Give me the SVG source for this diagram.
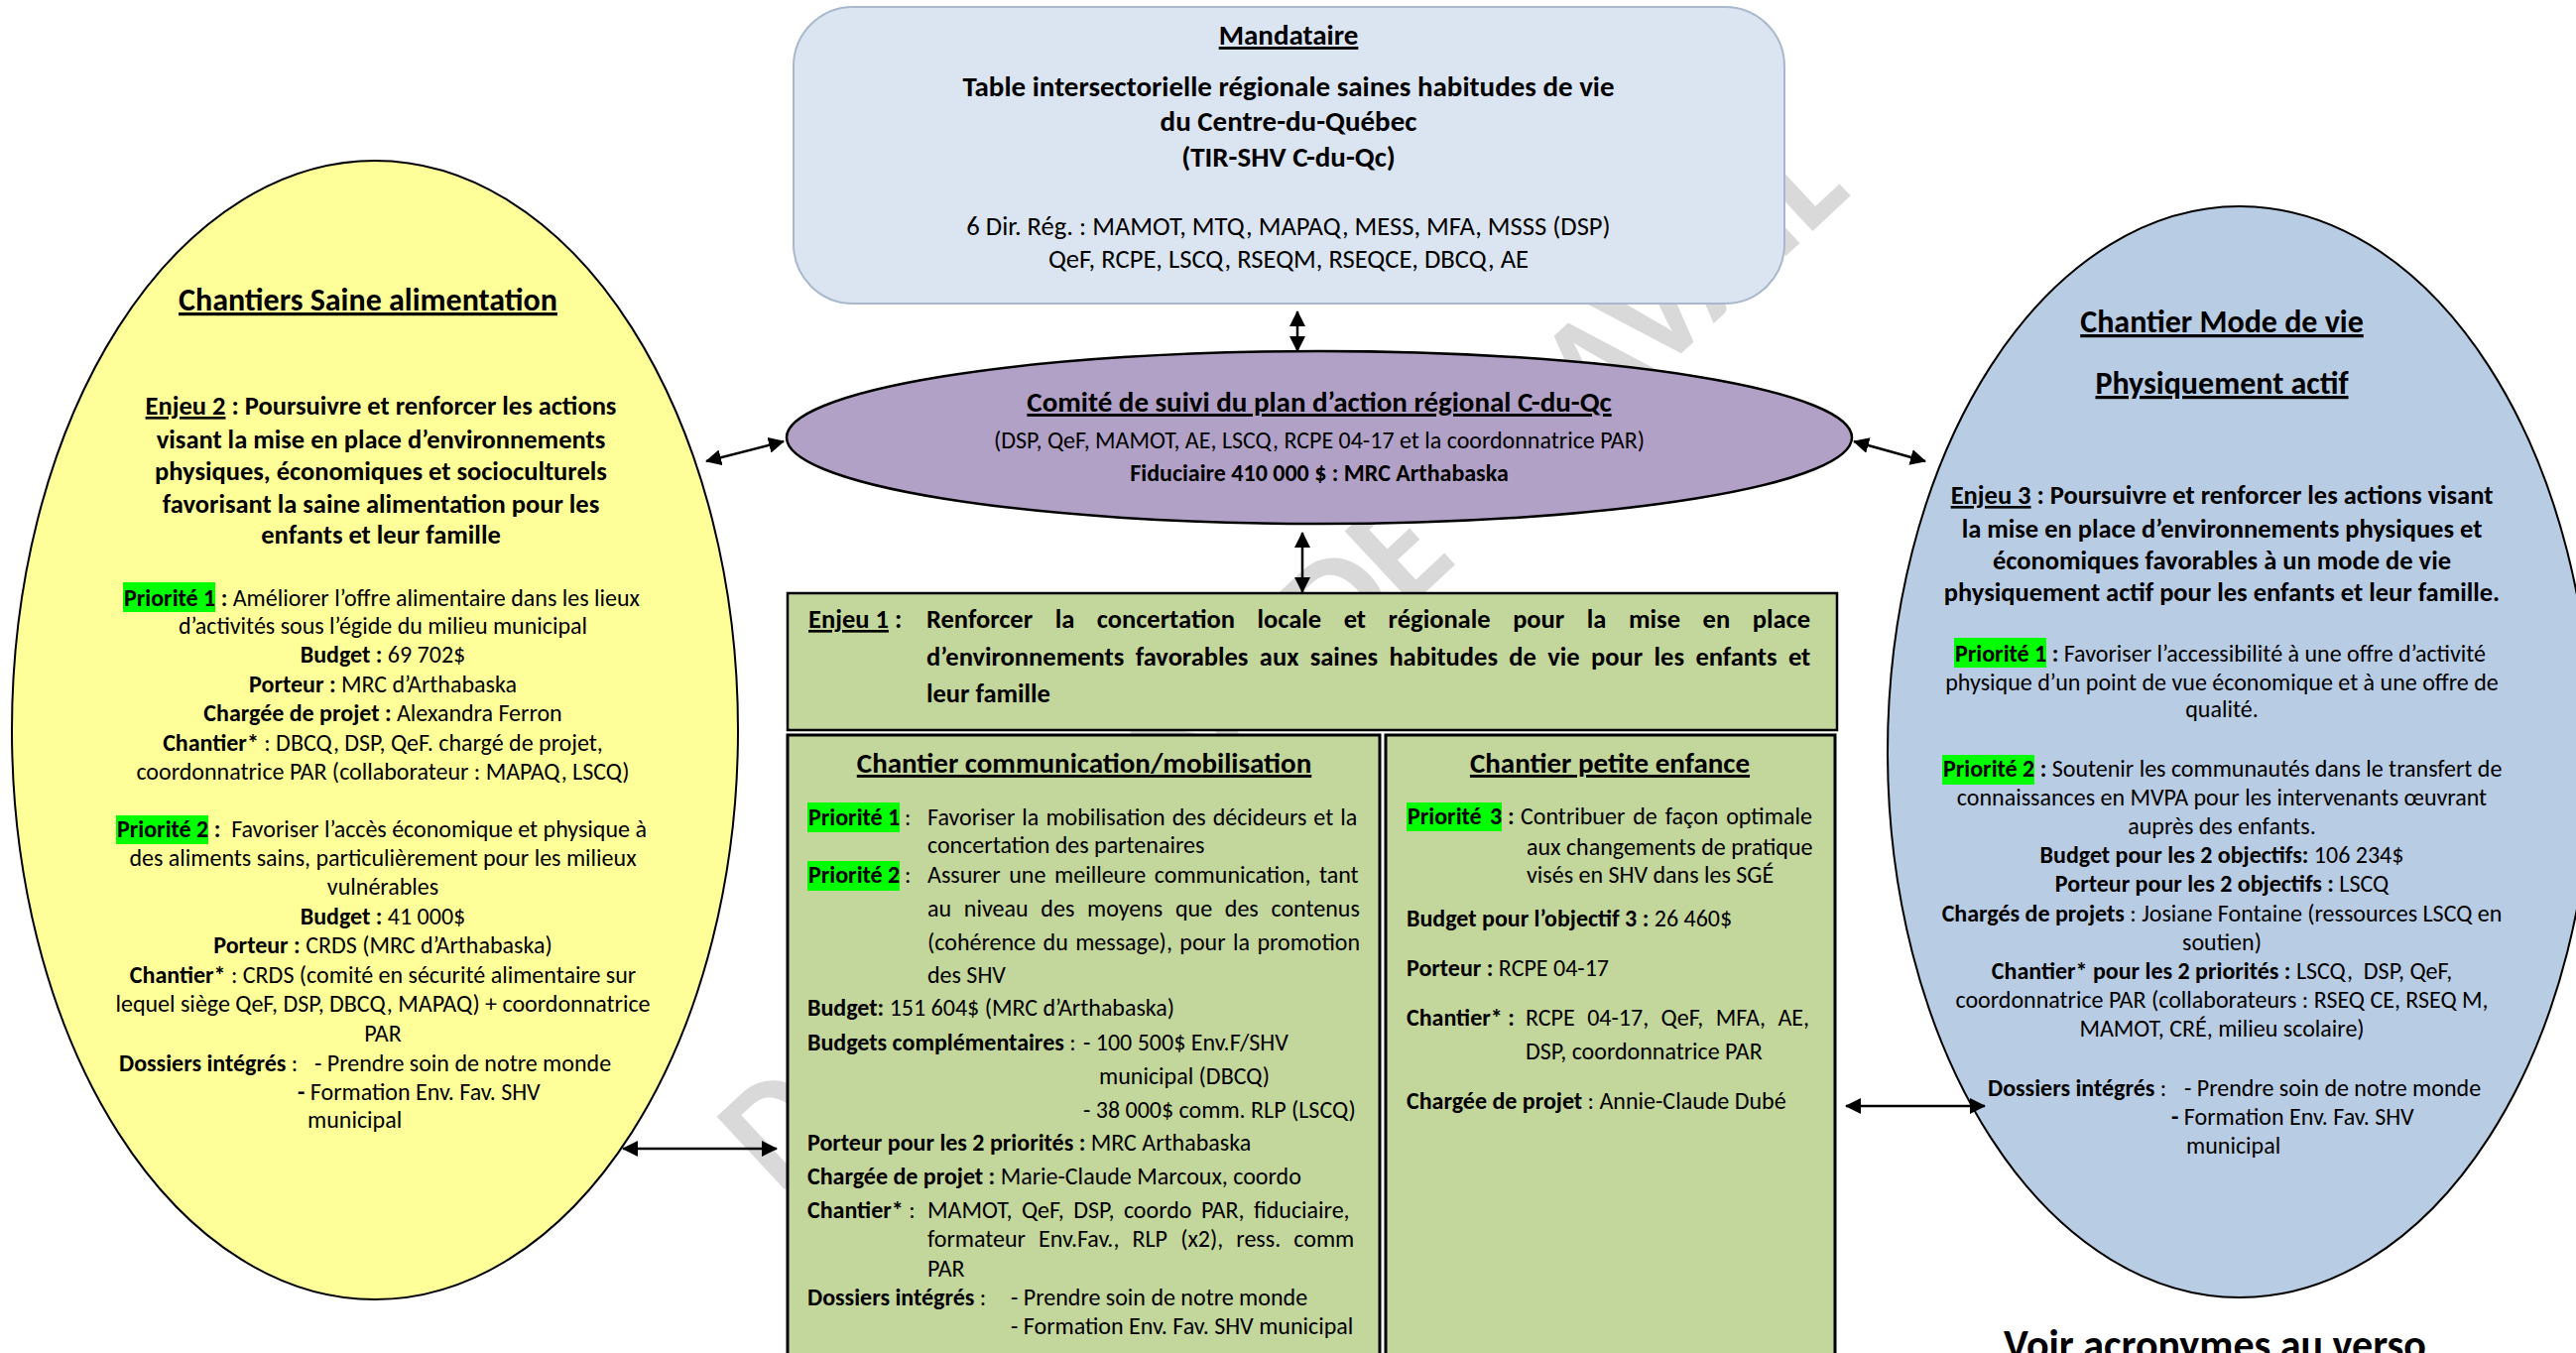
<svg xmlns="http://www.w3.org/2000/svg" width="2597" height="1364" viewBox="0 0 2597 1364">
<style>
.f{font-family:Carlito,Lato,"Liberation Sans",sans-serif;fill:#000}
.wm{font-family:Carlito,Lato,"Liberation Sans",sans-serif;fill:#d9d9d9;font-weight:700}
.b{font-weight:700}
.u{text-decoration:underline}
.m{text-anchor:middle}
.s24{font-size:24px}
.s26{font-size:26.5px}
.s27{font-size:26.6px}
.s29{font-size:29px}
.s32{font-size:32px}
.hl{fill:#00ff00}
.con{stroke:#000;stroke-width:2.5;fill:none;marker-start:url(#ah);marker-end:url(#ah)}
</style>
<defs>
<marker id="ah" markerUnits="userSpaceOnUse" markerWidth="16" markerHeight="16" refX="15" refY="8" orient="auto-start-reverse">
<path d="M0,0 L16,8 L0,16 z" fill="#000"/>
</marker>
</defs>
<rect width="2597" height="1364" fill="#fff"/>

<g id="watermark">
<text class="wm" x="0" y="0" font-size="155" textLength="1480" lengthAdjust="spacingAndGlyphs" transform="translate(785,1205) rotate(-43)">DOCUMENT DE TRAVAIL</text>
</g>

<g id="mandataire">
<rect x="800" y="7" width="999" height="299" rx="60" ry="60" fill="#dbe5f1" stroke="#a9b8cc" stroke-width="2"/>
<text class="f b s29 m u" x="1299" y="45">Mandataire</text>
<text class="f b s29 m" x="1299" y="97">Table intersectorielle régionale saines habitudes de vie</text>
<text class="f b s29 m" x="1299" y="132">du Centre-du-Québec</text>
<text class="f b s29 m" x="1299" y="168">(TIR-SHV C-du-Qc)</text>
<text class="f s27 m" x="1299" y="237">6 Dir. Rég. : MAMOT, MTQ, MAPAQ, MESS, MFA, MSSS (DSP)</text>
<text class="f s27 m" x="1299" y="270">QeF, RCPE, LSCQ, RSEQM, RSEQCE, DBCQ, AE</text>
</g>

<g id="comite">
<ellipse cx="1330" cy="441" rx="537" ry="87" fill="#b2a1c7" stroke="#000" stroke-width="2.5"/>
<text class="f b s29 m u" x="1330" y="415">Comité de suivi du plan d’action régional C-du-Qc</text>
<text class="f s24 m" x="1330" y="452">(DSP, QeF, MAMOT, AE, LSCQ, RCPE 04-17 et la coordonnatrice PAR)</text>
<text class="f b s24 m" x="1330" y="485">Fiduciaire 410 000 $ : MRC Arthabaska</text>
</g>

<g id="saine-alimentation">
<ellipse cx="378" cy="736" rx="366" ry="574" fill="#ffff99" stroke="#000" stroke-width="2"/>
<text class="f b s32 m u" x="371" y="313">Chantiers Saine alimentation</text>
<text class="f b s26 m" x="384" y="418"><tspan class="u">Enjeu 2</tspan> : Poursuivre et renforcer les actions</text>
<text class="f b s26 m" x="384" y="452">visant la mise en place d’environnements</text>
<text class="f b s26 m" x="384" y="484">physiques, économiques et socioculturels</text>
<text class="f b s26 m" x="384" y="517">favorisant la saine alimentation pour les</text>
<text class="f b s26 m" x="384" y="548">enfants et leur famille</text>
<rect class="hl" x="124" y="587" width="93" height="30"/>
<text class="f s24" x="125" y="611"><tspan class="b">Priorité 1 :</tspan> Améliorer l’offre alimentaire dans les lieux</text>
<text class="f s24 m" x="386" y="639">d’activités sous l’égide du milieu municipal</text>
<text class="f s24 m" x="386" y="668"><tspan class="b">Budget :</tspan> 69 702$</text>
<text class="f s24 m" x="386" y="698"><tspan class="b">Porteur :</tspan> MRC d’Arthabaska</text>
<text class="f s24 m" x="386" y="727"><tspan class="b">Chargée de projet :</tspan> Alexandra Ferron</text>
<text class="f s24 m" x="386" y="757"><tspan class="b">Chantier*</tspan> : DBCQ, DSP, QeF. chargé de projet,</text>
<text class="f s24 m" x="386" y="786">coordonnatrice PAR (collaborateur : MAPAQ, LSCQ)</text>
<rect class="hl" x="117" y="822" width="93" height="29"/>
<text class="f s24" x="118" y="844"><tspan class="b">Priorité 2 :</tspan>&#160; Favoriser l’accès économique et physique à</text>
<text class="f s24 m" x="386" y="873">des aliments sains, particulièrement pour les milieux</text>
<text class="f s24 m" x="386" y="902">vulnérables</text>
<text class="f s24 m" x="386" y="932"><tspan class="b">Budget :</tspan> 41 000$</text>
<text class="f s24 m" x="386" y="961"><tspan class="b">Porteur :</tspan> CRDS (MRC d’Arthabaska)</text>
<text class="f s24 m" x="386" y="991"><tspan class="b">Chantier*</tspan> : CRDS (comité en sécurité alimentaire sur</text>
<text class="f s24 m" x="386" y="1020">lequel siège QeF, DSP, DBCQ, MAPAQ) + coordonnatrice</text>
<text class="f s24 m" x="386" y="1050">PAR</text>
<text class="f s24" x="120" y="1080"><tspan class="b">Dossiers intégrés</tspan> :<tspan x="317">- Prendre soin de notre monde</tspan></text>
<text class="f s24" x="300" y="1109"><tspan class="b">-</tspan> Formation Env. Fav. SHV</text>
<text class="f s24" x="310" y="1137">municipal</text>
</g>

<g id="mode-de-vie">
<ellipse cx="2258" cy="758" rx="355" ry="550" fill="#b8cce4" stroke="#000" stroke-width="2"/>
<text class="f b s32 m u" x="2240" y="335">Chantier Mode de vie</text>
<text class="f b s32 m u" x="2240" y="397">Physiquement actif</text>
<text class="f b s26 m" x="2240" y="508"><tspan class="u">Enjeu 3</tspan> : Poursuivre et renforcer les actions visant</text>
<text class="f b s26 m" x="2240" y="542">la mise en place d’environnements physiques et</text>
<text class="f b s26 m" x="2240" y="574">économiques favorables à un mode de vie</text>
<text class="f b s26 m" x="2240" y="606">physiquement actif pour les enfants et leur famille.</text>
<rect class="hl" x="1970" y="643" width="93" height="30"/>
<text class="f s24" x="1971" y="667"><tspan class="b">Priorité 1 :</tspan> Favoriser l’accessibilité à une offre d’activité</text>
<text class="f s24 m" x="2240" y="696">physique d’un point de vue économique et à une offre de</text>
<text class="f s24 m" x="2240" y="723">qualité.</text>
<rect class="hl" x="1958" y="761" width="93" height="30"/>
<text class="f s24" x="1959" y="783"><tspan class="b">Priorité 2 :</tspan> Soutenir les communautés dans le transfert de</text>
<text class="f s24 m" x="2240" y="812">connaissances en MVPA pour les intervenants œuvrant</text>
<text class="f s24 m" x="2240" y="841">auprès des enfants.</text>
<text class="f s24 m" x="2240" y="870"><tspan class="b">Budget pour les 2 objectifs:</tspan> 106 234$</text>
<text class="f s24 m" x="2240" y="899"><tspan class="b">Porteur pour les 2 objectifs :</tspan> LSCQ</text>
<text class="f s24 m" x="2240" y="929"><tspan class="b">Chargés de projets</tspan> : Josiane Fontaine (ressources LSCQ en</text>
<text class="f s24 m" x="2240" y="958">soutien)</text>
<text class="f s24 m" x="2240" y="987"><tspan class="b">Chantier* pour les 2 priorités :</tspan> LSCQ,&#160; DSP, QeF,</text>
<text class="f s24 m" x="2240" y="1016">coordonnatrice PAR (collaborateurs : RSEQ CE, RSEQ M,</text>
<text class="f s24 m" x="2240" y="1045">MAMOT, CRÉ, milieu scolaire)</text>
<text class="f s24" x="2004" y="1105"><tspan class="b">Dossiers intégrés</tspan> :<tspan x="2202">- Prendre soin de notre monde</tspan></text>
<text class="f s24" x="2189" y="1134"><tspan class="b">-</tspan> Formation Env. Fav. SHV</text>
<text class="f s24" x="2204" y="1163">municipal</text>
</g>

<g id="enjeu1">
<rect x="794" y="598" width="1058" height="138" fill="#c3d69b" stroke="#000" stroke-width="2.5"/>
<text class="f b s26" x="815" y="633"><tspan class="u">Enjeu 1</tspan> :</text>
<text class="f b s26" x="934" y="633" word-spacing="16.6">Renforcer la concertation locale et régionale pour la mise en place</text>
<text class="f b s26" x="934" y="671" word-spacing="5.4">d’environnements favorables aux saines habitudes de vie pour les enfants et</text>
<text class="f b s26" x="934" y="708">leur famille</text>
</g>

<g id="chantier-communication">
<rect x="794" y="741" width="597" height="640" fill="#c3d69b" stroke="#000" stroke-width="3"/>
<text class="f b s29 m u" x="1093" y="779">Chantier communication/mobilisation</text>
<rect class="hl" x="814" y="809" width="93" height="30"/>
<text class="f b s24" x="815" y="832">Priorité 1</text>
<text class="f s24" x="912" y="832">:</text>
<text class="f s24" x="935" y="832" word-spacing="1.6">Favoriser la mobilisation des décideurs et la</text>
<text class="f s24" x="935" y="860">concertation des partenaires</text>
<rect class="hl" x="814" y="868" width="93" height="30"/>
<text class="f b s24" x="815" y="890">Priorité 2</text>
<text class="f s24" x="912" y="890">:</text>
<text class="f s24" x="935" y="890" word-spacing="3.2">Assurer une meilleure communication, tant</text>
<text class="f s24" x="935" y="924" word-spacing="7.3">au niveau des moyens que des contenus</text>
<text class="f s24" x="935" y="958" word-spacing="2">(cohérence du message), pour la promotion</text>
<text class="f s24" x="935" y="991">des SHV</text>
<text class="f s24" x="814" y="1024"><tspan class="b">Budget:</tspan> 151 604$ (MRC d’Arthabaska)</text>
<text class="f s24" x="814" y="1059"><tspan class="b">Budgets complémentaires</tspan> :<tspan x="1092">- 100 500$ Env.F/SHV</tspan></text>
<text class="f s24" x="1108" y="1093">municipal (DBCQ)</text>
<text class="f s24" x="1092" y="1127">- 38 000$ comm. RLP (LSCQ)</text>
<text class="f s24" x="814" y="1160"><tspan class="b">Porteur pour les 2 priorités :</tspan> MRC Arthabaska</text>
<text class="f s24" x="814" y="1194"><tspan class="b">Chargée de projet :</tspan> Marie-Claude Marcoux, coordo</text>
<text class="f s24" x="814" y="1228"><tspan class="b">Chantier*</tspan> :</text>
<text class="f s24" x="935" y="1228" word-spacing="4.1">MAMOT, QeF, DSP, coordo PAR, fiduciaire,</text>
<text class="f s24" x="935" y="1257" word-spacing="7.7">formateur Env.Fav., RLP (x2), ress. comm</text>
<text class="f s24" x="935" y="1287">PAR</text>
<text class="f s24" x="814" y="1316"><tspan class="b">Dossiers intégrés</tspan> :<tspan x="1019">- Prendre soin de notre monde</tspan></text>
<text class="f s24" x="1019" y="1345">- Formation Env. Fav. SHV municipal</text>
</g>

<g id="chantier-petite-enfance">
<rect x="1397" y="741" width="453" height="640" fill="#c3d69b" stroke="#000" stroke-width="3"/>
<text class="f b s29 m u" x="1623" y="779">Chantier petite enfance</text>
<rect class="hl" x="1418" y="809" width="96" height="29"/>
<text class="f b s24" x="1419" y="831" word-spacing="3">Priorité 3</text>
<text class="f b s24" x="1520" y="831">:</text>
<text class="f s24" x="1533" y="831" word-spacing="2.5">Contribuer de façon optimale</text>
<text class="f s24" x="1539" y="862">aux changements de pratique</text>
<text class="f s24" x="1539" y="890">visés en SHV dans les SGÉ</text>
<text class="f s24" x="1418" y="934"><tspan class="b">Budget pour l’objectif 3 :</tspan> 26 460$</text>
<text class="f s24" x="1418" y="984"><tspan class="b">Porteur :</tspan> RCPE 04-17</text>
<text class="f b s24" x="1418" y="1034">Chantier* :</text>
<text class="f s24" x="1538" y="1034" word-spacing="7">RCPE 04-17, QeF, MFA, AE,</text>
<text class="f s24" x="1538" y="1068">DSP, coordonnatrice PAR</text>
<text class="f s24" x="1418" y="1118"><tspan class="b">Chargée de projet</tspan> : Annie-Claude Dubé</text>
</g>

<g id="note">
<text class="f b m" font-size="42" x="2233" y="1370">Voir acronymes au verso</text>
</g>

<g id="connectors">
<line class="con" x1="1308" y1="314" x2="1308" y2="354"/>
<line class="con" x1="1313" y1="537" x2="1313" y2="597"/>
<line class="con" x1="712" y1="465" x2="790" y2="445"/>
<line class="con" x1="1869" y1="445" x2="1941" y2="465"/>
<line class="con" x1="628" y1="1158" x2="783" y2="1158"/>
<line class="con" x1="1861" y1="1115" x2="2001" y2="1115"/>
</g>
</svg>
